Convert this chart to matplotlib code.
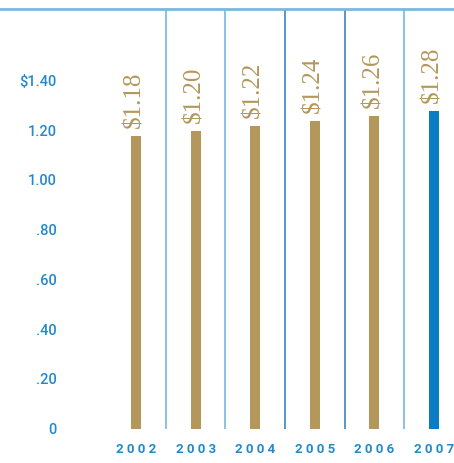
import matplotlib
matplotlib.use('Agg')
import matplotlib.pyplot as plt

# Datos
years = ['2002', '2003', '2004', '2005', '2006', '2007']
dividends = [1.18, 1.20, 1.22, 1.24, 1.26, 1.28]
ytick_vals = [0, 0.20, 0.40, 0.60, 0.80, 1.00, 1.20, 1.40]
ytick_labels = ['0', '.20', '.40', '.60', '.80', '1.00', '1.20', '$1.40']

gold = '#b3975b'
blue_bar = '#0a7cc2'
blue_text = '#2289cc'
sep_colors = ['#6fb0de', '#6fb0de', '#2a7bbd', '#2a7bbd', '#6fb0de']

fig = plt.figure(figsize=[4.54, 4.64], dpi=100)
ax = fig.add_axes([0, 34 / 464, 1, 420 / 464])

x = list(range(len(years)))
colors = [gold] * (len(years) - 1) + [blue_bar]
ax.bar(x, dividends, width=0.17, color=colors, zorder=3)

step = 59.6
ax.set_xlim(-136 / step, (454 - 136) / step)
ax.set_ylim(0, 420 / 248.6)

# Separadores verticales
for i in range(len(years) - 1):
    ax.axvline(i + 0.5, color=sep_colors[i], lw=1.1, zorder=1)

# Línea superior
ax.axhline(ax.get_ylim()[1], color='#7ab8e0', lw=2, clip_on=False)

# Etiquetas de valor
for xi, v in zip(x, dividends):
    ax.annotate(f'${v:.2f}', (xi, v), xytext=(-1, 6), textcoords='offset points',
                rotation=90, ha='center', va='bottom', color=gold,
                fontsize=18, family='Liberation Serif')

# Etiquetas del eje y
for v, lab in zip(ytick_vals, ytick_labels):
    ax.text((57 - 136) / step, v, lab, ha='right', va='center', color=blue_text,
            fontsize=10.5, fontweight='medium', family='Roboto')

# Etiquetas del eje x
for xi, y in zip(x, years):
    ax.text(xi, -20 / 248.6, ' '.join(y), ha='center', va='center', color=blue_text,
            fontsize=9.5, fontweight='bold', family='Roboto', clip_on=False)

ax.axis('off')
fig.savefig('out.png', dpi=100)
